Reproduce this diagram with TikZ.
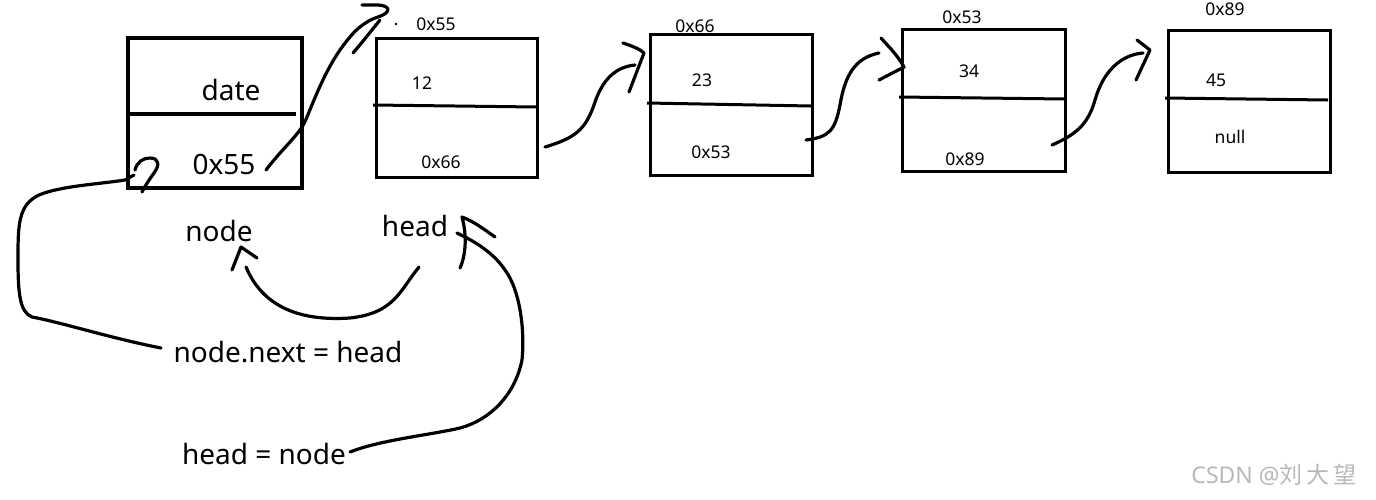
\documentclass[tikz,border=0pt]{standalone}
\usepackage{fontspec}
\setmainfont{Noto Sans}
\newfontfamily\cjk{Noto Sans CJK SC}
\begin{document}
\begin{tikzpicture}[x=1pt,y=-1pt,
  frame/.style={draw, line width=3pt, inner sep=0pt, outer sep=0pt, anchor=north west},
  thickframe/.style={frame, line width=4.5pt},
  rule/.style={line width=3pt},
  ink/.style={line width=3.2pt, line cap=round, line join=round},
  sm/.style={inner sep=0pt, font=\fontsize{17.5}{20}\selectfont},
  lg/.style={inner sep=0pt, font=\fontsize{28}{32}\selectfont},
  wm/.style={inner sep=0pt, text=black!28, font=\fontsize{23}{26}\selectfont}]
\useasboundingbox (0,0) rectangle (1376,499);
\fill[white] (0,0) rectangle (1376,499);

% boxes
\node[thickframe, minimum width=174pt, minimum height=150pt] (n0) at (128,38) {};
\node[frame, minimum width=161pt, minimum height=139pt] (n1) at (376,38) {};
\node[frame, minimum width=162pt, minimum height=141pt] (n2) at (650,34) {};
\node[frame, minimum width=163pt, minimum height=142pt] (n3) at (902,29) {};
\node[frame, minimum width=162pt, minimum height=142pt] (n4) at (1168,30) {};

% dividers
\draw[line width=4.5pt] (128,114) -- (296,114);
\draw[rule] (373,105) -- (537,107);
\draw[rule] (647,103) -- (811,106);
\draw[rule] (899,97) -- (1065,99);
\draw[rule] (1165,98) -- (1328,100);

% texts
\node[lg] (tdate) at (231,90) {date};
\node[lg] (tp0) at (224,164) {0x55};
\node[sm] (ta1) at (436,24) {0x55};
\fill (396,24) circle (1.3pt);
\node[sm] (tv1) at (422,83) {12};
\node[sm] (tp1) at (441,162) {0x66};
\node[sm] (ta2) at (695,26) {0x66};
\node[sm] (tv2) at (702,80) {23};
\node[sm] (tp2) at (711,152) {0x53};
\node[sm] (ta3) at (962,17) {0x53};
\node[sm] (tv3) at (969,71) {34};
\node[sm] (tp3) at (965,159) {0x89};
\node[sm] (ta4) at (1225,9) {0x89};
\node[sm] (tv4) at (1216,80) {45};
\node[sm] (tp4) at (1230,137) {null};
\node[lg] (lnode) at (219,231) {node};
\node[lg] (lhead) at (415,226) {head};
\node[lg] (lnext) at (288,352) {node.next = head};
\node[lg] (lassign) at (264,454) {head = node};
\node[wm] (wmark) at (1274,475) {CSDN @{\cjk 刘\hspace{4pt}大\hspace{4pt}望}};

% connector endpoints
\coordinate (s1) at (266,170);
\coordinate (e1) at (362,5);
\coordinate (s2) at (545,147);
\coordinate (e2) at (635,65);
\coordinate (h2) at (644,53);
\coordinate (s3) at (806,140);
\coordinate (e3) at (879,53);
\coordinate (h3) at (904,67);
\coordinate (s4) at (1052,145);
\coordinate (e4) at (1143,53);
\coordinate (h4) at (1150,50);
\coordinate (s5) at (419,267);
\coordinate (e5) at (246,267);
\coordinate (h5) at (241,247);
\coordinate (s6) at (161,348);
\coordinate (e6) at (134,175);
\coordinate (s7) at (350,452);
\coordinate (e7) at (467,238);
\coordinate (h7) at (462,217);

% 0x55 -> second box (hooked head)
\draw[ink] (s1) .. controls (285,145) and (300,135) .. (307,117)
  .. controls (318,90) and (330,60) .. (350,37)
  .. controls (357,28) and (368,20) .. (378,17)
  .. controls (391,13) and (392,5) .. (376,5) -- (e1);
\draw[ink] (380,20) .. controls (372,30) and (360,45) .. (353,53);

% box1 -> box2
\draw[ink] (s2) .. controls (575,138) and (585,130) .. (594,105)
  .. controls (602,80) and (615,67) .. (e2);
\draw[ink] (623,43) .. controls (632,46) and (640,49) .. (h2) -- (629,92);

% box2 -> box3
\draw[ink] (s3) .. controls (830,137) and (835,130) .. (840,105)
  .. controls (845,75) and (855,58) .. (e3);
\draw[ink] (881,38) .. controls (890,48) and (898,56) .. (h3) -- (879,80);

% box3 -> box4
\draw[ink] (s4) .. controls (1075,135) and (1088,125) .. (1095,100)
  .. controls (1103,72) and (1120,55) .. (e4);
\draw[ink] (1137,40) -- (h4) -- (1136,80);

% head -> node
\draw[ink] (s5) .. controls (400,290) and (395,313) .. (350,318)
  .. controls (290,322) and (260,300) .. (e5);
\draw[ink] (232,270) -- (h5) -- (257,258);

% node.next = head -> node box
\draw[ink] (s6) .. controls (110,338) and (60,322) .. (32,317)
  .. controls (20,312) and (18,295) .. (18,260)
  .. controls (18,225) and (18,205) .. (39,195)
  .. controls (60,186) and (100,184) .. (125,180) -- (e6);
\draw[ink] (135,170) .. controls (137,162) and (143,158) .. (150,158)
  .. controls (159,158) and (160,165) .. (154,173)
  .. controls (149,180) and (145,186) .. (142,192);

% head = node -> head
\draw[ink] (s7) .. controls (380,440) and (430,435) .. (460,428)
  .. controls (490,420) and (515,395) .. (522,360)
  .. controls (525,330) and (520,290) .. (505,270)
  .. controls (495,255) and (480,245) .. (e7);
\draw[ink] (457,233) -- (e7);
\draw[ink] (495,237) .. controls (485,230) and (475,222) .. (h7)
  .. controls (467,235) and (466,255) .. (460,268);
\end{tikzpicture}
\end{document}
